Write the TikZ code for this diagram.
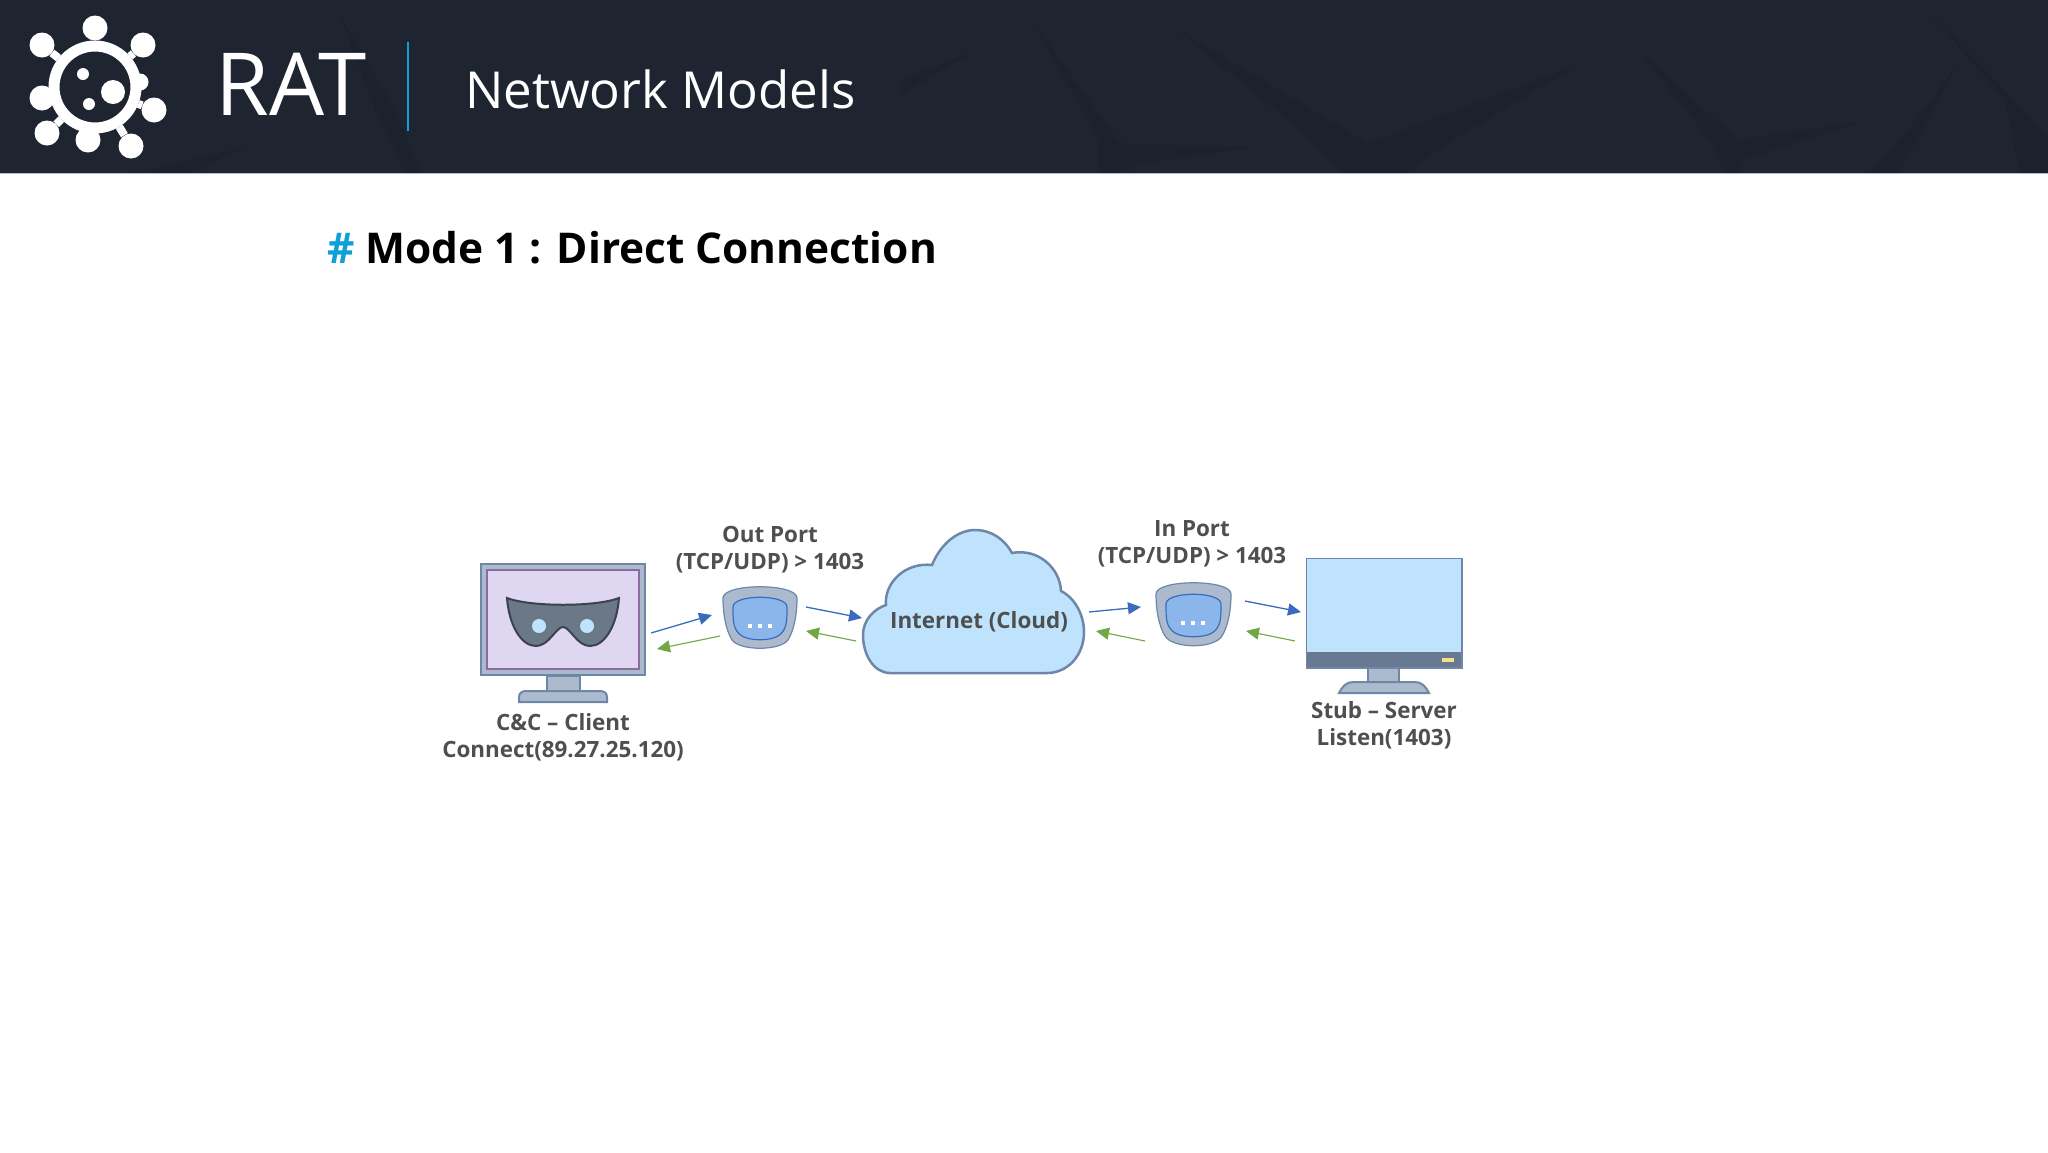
\documentclass[tikz,border=0pt]{standalone}
\usepackage{fontspec}
\setmainfont{Open Sans}
\usetikzlibrary{arrows.meta}
\definecolor{headbg}{HTML}{1E2531}
\definecolor{headln}{HTML}{1B222D}
\definecolor{accent}{HTML}{119FD9}
\definecolor{labelc}{HTML}{4F4F4F}
\definecolor{frame}{HTML}{6E87A8}
\definecolor{metal}{HTML}{ABBACD}
\definecolor{lilac}{HTML}{DFD6F2}
\definecolor{plum}{HTML}{8A6D9E}
\definecolor{sky}{HTML}{BFE3FD}
\definecolor{slate}{HTML}{677A92}
\definecolor{maskc}{HTML}{6A7887}
\definecolor{maskln}{HTML}{3A4350}
\definecolor{portc}{HTML}{8AB6EC}
\definecolor{blueln}{HTML}{3B6BBF}
\definecolor{greenln}{HTML}{6FA845}
\definecolor{ledc}{HTML}{F6E08A}
\tikzset{
  lbl/.style={font=\bfseries\fontsize{22.4}{27}\selectfont,text=labelc,align=center,inner sep=0pt},
  dev/.style={draw=frame,fill=metal,line width=2pt},
  spot/.style={circle,fill=white,minimum size=25pt,inner sep=0pt},
  dot/.style={fill=white,minimum size=4pt,inner sep=0pt},
  sendln/.style={blueln,line width=1.3pt,-{Triangle[length=13pt,width=12pt]}},
  backln/.style={greenln,line width=1.1pt,-{Triangle[length=13pt,width=12pt]}}
}
\begin{document}
\begin{tikzpicture}[x=1pt,y=-1pt]
 \useasboundingbox (0,0) rectangle (2048,1152);
 \fill[white] (0,0) rectangle (2048,1152);

 % header
 \fill[headbg] (0,0) rectangle (2048,173);
 \fill[headln] (339,13) -- (395,110) -- (422,173) -- (405,173) -- (375,110) -- cycle;
 \fill[headln] (132,173) -- (247,147) -- (190,173) -- cycle;
 \fill[headln] (1035,25) -- (1120,143) -- (1251,148) -- (1142,163) -- (1116,173) -- (1098,173) -- (1098,140) -- cycle;
 \fill[headln] (1175,28) -- (1368,143) -- (1577,65) -- (1442,147) -- (1405,173) -- (1343,173) -- (1288,120) -- cycle;
 \fill[headln] (1640,52) -- (1738,140) -- (1862,121) -- (1742,160) -- (1738,173) -- (1724,173) -- (1712,143) -- cycle;
 \fill[headln] (1925,8) -- (2027,113) -- (2048,140) -- (2048,173) -- (2020,173) -- (2005,100) -- cycle;
 \fill[headln] (1958,63) -- (1899,173) -- (1870,173) -- (1925,110) -- cycle;
 \fill[headln] (973,52) -- (900,95) -- (900,80) -- cycle;
 \draw[metal,line width=1pt] (0,173) -- (2048,173);
 \draw[accent,line width=2pt] (408,42) -- (408,131);
 \node (rat) at (215.5,84) [anchor=west,inner sep=0pt,text=white,font=\fontsize{87}{87}\selectfont] {RAT};
 \node (models) at (465,89) [anchor=west,inner sep=0pt,text=white,font=\fontsize{51}{51}\selectfont] {Network Models};

 % logo
 \node (virus) at (95,87) [circle,draw=white,line width=11pt,minimum size=82pt,inner sep=0pt] {};
 \node (s1) at (95,28) [spot] {};
 \node (s2) at (143,45) [spot] {};
 \node (s3) at (154,110) [spot] {};
 \node (s4) at (131,146) [spot] {};
 \node (s5) at (88,140) [spot] {};
 \node (s6) at (47,133) [spot] {};
 \node (s7) at (42,98) [spot] {};
 \node (s8) at (42,45) [spot] {};
 \node (s9) at (140,82) [spot,minimum size=17pt] {};
 \draw[white,line width=8pt] (virus) edge (s1) (virus) edge (s2) (virus) edge (s3) (virus) edge (s4);
 \draw[white,line width=8pt] (virus) edge (s5) (virus) edge (s6) (virus) edge (s7) (virus) edge (s8);
 \node (h1) at (83,74) [spot,minimum size=12pt] {};
 \node (h2) at (113,92) [spot,minimum size=24pt] {};
 \node (h3) at (89,104) [spot,minimum size=12pt] {};

 % title
 \node (title) at (327,248) [anchor=west,inner sep=0pt,font=\bfseries\fontsize{42.4}{42}\selectfont] {\textcolor{accent}{\#} Mode 1 : Direct Connection};

 % client monitor
 \draw[dev] (547,676) rectangle (580,692);
 \draw[dev] (519,702) -- (519,697) .. controls (519,693) and (522,691) .. (526,691) -- (600,691) .. controls (604,691) and (607,693) .. (607,697) -- (607,702) -- cycle;
 \node (client) at (563,619.5) [dev,minimum width=164pt,minimum height=111pt,inner sep=0pt] {};
 \node (clients) at (563,619.5) [draw=plum,fill=lilac,line width=1.5pt,minimum width=152pt,minimum height=99pt,inner sep=0pt] {};
 \draw[draw=maskln,fill=maskc,line width=2pt] (507,598) .. controls (530,607) and (596,607) .. (619,598) .. controls (617,625) and (605,646) .. (590,646) .. controls (577,646) and (570,627) .. (563,627) .. controls (556,627) and (549,646) .. (536,646) .. controls (521,646) and (509,625) .. (507,598) -- cycle;
 \node (eye1) at (539,626) [circle,fill=sky,minimum size=14pt,inner sep=0pt] {};
 \node (eye2) at (587,626) [circle,fill=sky,minimum size=14pt,inner sep=0pt] {};
 \node (clientlbl) at (563,737.5) [lbl] {C\&C – Client\\Connect(89.27.25.120)};

 % out port
 \draw[dev,line width=1.2pt] (723,598) .. controls (723,583) and (797,583) .. (797,598) .. controls (797,615) and (794,630) .. (788,640) .. controls (780,651) and (740,651) .. (732,640) .. controls (726,630) and (723,615) .. (723,598) -- cycle;
 \draw[draw=blueln,fill=portc,line width=1.2pt] (733,607) .. controls (733,594) and (787,594) .. (787,607) .. controls (787,622) and (787,630) .. (778,636) .. controls (770,641) and (750,641) .. (742,636) .. controls (733,630) and (733,622) .. (733,607) -- cycle;
 \node (d1) at (750,625.5) [dot] {};
 \node (d2) at (760,625.5) [dot] {};
 \node (d3) at (770,625.5) [dot] {};
 \node (outlbl) at (770,549.5) [lbl] {Out Port\\(TCP/UDP) > 1403};

 % cloud
 \draw[draw=frame,fill=sky,line width=2.5pt] (890,673) .. controls (874,673) and (863,655) .. (863,635) .. controls (863,620) and (874,609) .. (886,605) .. controls (884,583) and (905,562) .. (932,565) .. controls (940,545) and (957,530) .. (975,530) .. controls (992,530) and (1005,540) .. (1012,553) .. controls (1038,548) and (1060,568) .. (1061,591) .. controls (1075,598) and (1084,615) .. (1084,632) .. controls (1084,655) and (1068,673) .. (1047,673) -- cycle;
 \node (cloud) at (979,621.5) [lbl] {Internet (Cloud)};

 % in port
 \draw[dev,line width=1.2pt] (1156,594) .. controls (1156,579) and (1231,579) .. (1231,594) .. controls (1231,611) and (1228,626) .. (1222,636) .. controls (1214,649) and (1173,649) .. (1165,636) .. controls (1159,626) and (1156,611) .. (1156,594) -- cycle;
 \draw[draw=blueln,fill=portc,line width=1.2pt] (1166,604) .. controls (1166,591) and (1221,591) .. (1221,604) .. controls (1221,619) and (1221,627) .. (1212,633) .. controls (1204,638) and (1183,638) .. (1175,633) .. controls (1166,627) and (1166,619) .. (1166,604) -- cycle;
 \node (ds1) at (1183,623) [dot] {};
 \node (ds2) at (1193,623) [dot] {};
 \node (ds3) at (1203,623) [dot] {};
 \node (inlbl) at (1192,544) [lbl] {In Port\\(TCP/UDP) > 1403};

 % server monitor
 \draw[dev] (1368,668) rectangle (1399,683);
 \draw[dev] (1339,693) .. controls (1342,687) and (1346,682) .. (1353,682) -- (1415,682) .. controls (1422,682) and (1426,687) .. (1429,693) -- cycle;
 \node (server) at (1384,613) [fill=sky,minimum width=155pt,minimum height=109pt,inner sep=0pt] {};
 \fill[slate] (server.south west) rectangle (server.east |- 0,652);
 \draw[frame,line width=1.6pt] (server.south west) rectangle (server.north east);
 \node (led) at (1448,660) [fill=ledc,minimum width=12pt,minimum height=4pt,inner sep=0pt] {};
 \node (serverlbl) at (1384,725.5) [lbl] {Stub – Server\\Listen(1403)};

 % arrows
 \coordinate (a1) at (651,633);
 \coordinate (a2) at (712,615);
 \coordinate (a3) at (720,636);
 \coordinate (a4) at (657,649);
 \coordinate (b1) at (806,607);
 \coordinate (b2) at (862,618);
 \coordinate (b3) at (856,641);
 \coordinate (b4) at (806,631);
 \coordinate (c1) at (1089,612);
 \coordinate (c2) at (1141,607);
 \coordinate (c3) at (1145,641);
 \coordinate (c4) at (1096,631);
 \coordinate (e1) at (1245,601);
 \coordinate (e2) at (1301,612);
 \coordinate (e3) at (1295,641);
 \coordinate (e4) at (1246,631);
 \draw[sendln] (a1) -- (a2);
 \draw[sendln] (b1) -- (b2);
 \draw[sendln] (c1) -- (c2);
 \draw[sendln] (e1) -- (e2);
 \draw[backln] (a3) -- (a4);
 \draw[backln] (b3) -- (b4);
 \draw[backln] (c3) -- (c4);
 \draw[backln] (e3) -- (e4);
\end{tikzpicture}
\end{document}
